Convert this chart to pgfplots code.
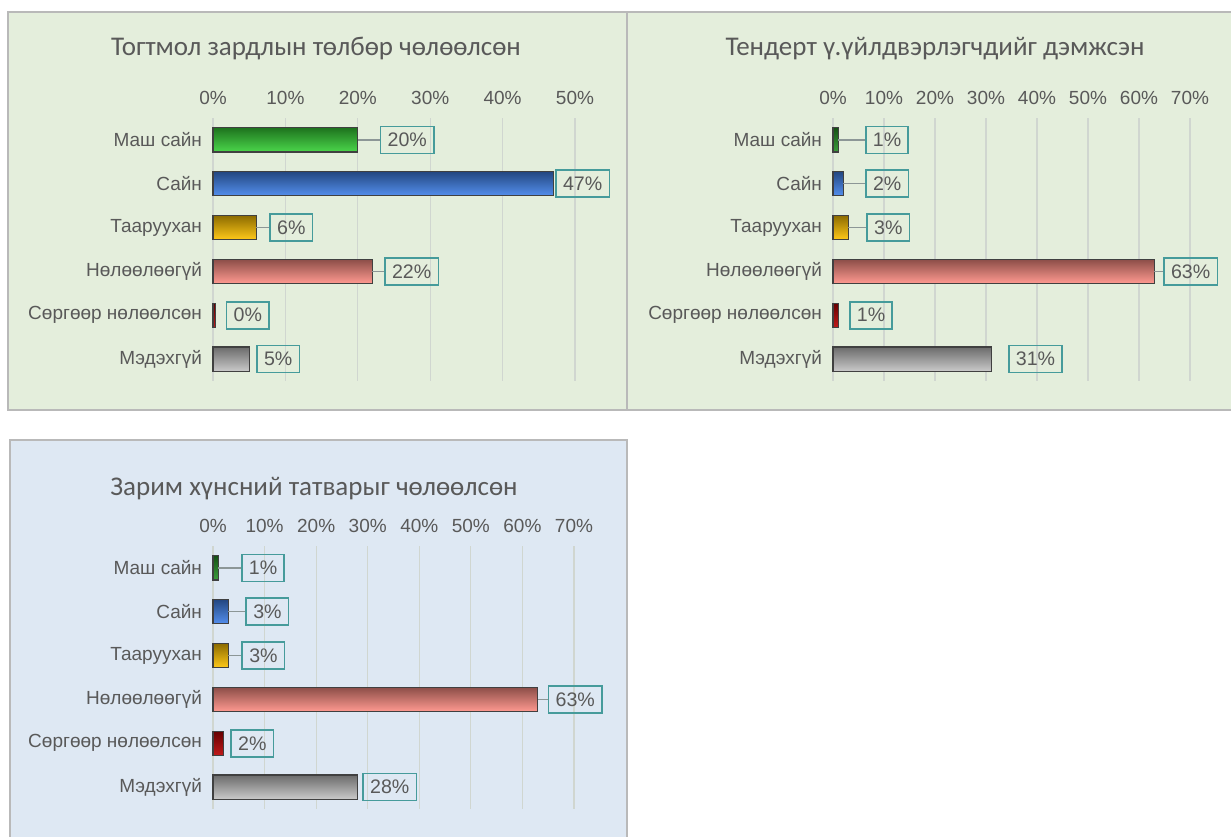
\documentclass[border=0pt]{standalone}
\usepackage{pgfplots}
\pgfplotsset{compat=1.18}
\usepackage{fontspec}
\setmainfont{Liberation Sans}
\newfontfamily\titlefont{Carlito}
\definecolor{bggreen}{RGB}{228,238,220}
\definecolor{bgblue}{RGB}{222,232,243}
\definecolor{framec}{RGB}{185,185,185}
\definecolor{txt}{RGB}{89,89,89}
\definecolor{boxc}{RGB}{70,155,155}
\definecolor{linec}{RGB}{140,150,150}
\definecolor{gridc}{RGB}{208,214,208}
\definecolor{cgreen}{RGB}{55,210,55}
\definecolor{cblue}{RGB}{65,130,235}
\definecolor{cgold}{RGB}{255,195,0}
\definecolor{csalmon}{RGB}{255,142,132}
\definecolor{cred}{RGB}{185,0,0}
\definecolor{cgray}{RGB}{195,195,195}
\pgfplotsset{
  panel/.style={
    scale only axis, width=#1, height=131.5pt,
    ymin=-0.5, ymax=5.5, xmin=0, clip=false,
    separate axis lines,
    axis x line*=top, axis y line*=left,
    x axis line style={draw=none},
    y axis line style={draw=gridc},
    xmajorgrids, major grid style={draw=gridc, line width=0.6pt},
    ytick={0,...,5},
    yticklabels={Мэдэхгүй, Сөргөөр нөлөөлсөн, Нөлөөлөөгүй, Тааруухан, Сайн, Маш сайн},
    tick style={draw=none},
    ticklabel style={font=\fontsize{9.5}{11}\selectfont, text=txt},
    yticklabel style={xshift=-2pt},
    xticklabel style={yshift=3pt},
  },
  mybar/.style={xbar, bar shift=0pt, bar width=0.55, draw=black!75, line width=0.6pt,
    top color=#1!55!black, middle color=#1, bottom color=#1!90!white},
  lbl/.style={nodes near coords={\pgfmathprintnumber[fixed,precision=0,assume math mode=true]{\pgfplotspointmeta}\%},
    point meta=x,
    every node near coord/.append style={anchor=west, xshift=#1, draw=boxc, line width=0.8pt,
      fill=none, text=txt, font=\fontsize{9.8}{11}\selectfont, inner xsep=3.5pt, inner ysep=0pt,
      minimum height=13.5pt}},
  leader/.style={every node near coord/.append style={append after command={(\tikzlastnode.west) edge[draw=linec, line width=0.6pt] ([xshift=-#1]\tikzlastnode.west)}}},
}
\begin{document}
\begin{tikzpicture}
\useasboundingbox (0,0) rectangle (615.5pt,418pt);
% panel backgrounds
\fill[bggreen] (4pt,213pt) rectangle (620pt,412pt);
\draw[framec, line width=0.8pt] (4pt,213pt) rectangle (313.5pt,412pt);
\draw[framec, line width=0.8pt] (313.5pt,213pt) rectangle (620pt,412pt);
\fill[bgblue] (5pt,-5pt) rectangle (313.5pt,198pt);
\draw[framec, line width=0.8pt] (5pt,-5pt) rectangle (313.5pt,198pt);
% titles
\node[text=txt, font=\titlefont\fontsize{13.5}{16}\selectfont] at (158pt,393.5pt) {Тогтмол зардлын төлбөр чөлөөлсөн};
\node[text=txt, font=\titlefont\fontsize{13.5}{16}\selectfont] at (467.5pt,393.5pt) {Тендерт ү.үйлдвэрлэгчдийг дэмжсэн};
\node[text=txt, font=\titlefont\fontsize{13.5}{16}\selectfont] at (157pt,173.5pt) {Зарим хүнсний татварыг чөлөөлсөн};

% Panel 1
\begin{axis}[panel=181pt, at={(106.5pt,359pt)}, anchor=north west, xmax=50,
  xtick={0,10,...,50}, xticklabels={0\%,10\%,20\%,30\%,40\%,50\%}]
\addplot[mybar=cgreen, lbl=11pt, leader=11pt] coordinates {(20,5)};
\addplot[mybar=cblue, lbl=1pt] coordinates {(47,4)};
\addplot[mybar=cgold, lbl=6.5pt, leader=6.5pt] coordinates {(6,3)};
\addplot[mybar=csalmon, lbl=6pt, leader=6pt] coordinates {(22,2)};
\addplot[mybar=cred, lbl=5pt] coordinates {(0.4,1)};
\addplot[mybar=cgray, lbl=3.5pt] coordinates {(5,0)};
\end{axis}

% Panel 2
\begin{axis}[panel=178.5pt, at={(416.5pt,359pt)}, anchor=north west, xmax=70,
  xtick={0,10,...,70}, xticklabels={0\%,10\%,20\%,30\%,40\%,50\%,60\%,70\%}]
\addplot[mybar=cgreen!70!black, lbl=13.5pt, leader=13.5pt] coordinates {(1,5)};
\addplot[mybar=cblue, lbl=11pt, leader=11pt] coordinates {(2,4)};
\addplot[mybar=cgold, lbl=9pt, leader=9pt] coordinates {(3,3)};
\addplot[mybar=csalmon, lbl=4.5pt, leader=4.5pt] coordinates {(63,2)};
\addplot[mybar=cred, lbl=5.5pt] coordinates {(1,1)};
\addplot[mybar=cgray, lbl=8.5pt] coordinates {(31,0)};
\end{axis}

% Panel 3
\begin{axis}[panel=180.5pt, at={(106.5pt,145pt)}, anchor=north west, xmax=70,
  xtick={0,10,...,70}, xticklabels={0\%,10\%,20\%,30\%,40\%,50\%,60\%,70\%}]
\addplot[mybar=cgreen!70!black, lbl=11.5pt, leader=11.5pt] coordinates {(1,5)};
\addplot[mybar=cblue, lbl=8.5pt, leader=8.5pt] coordinates {(3,4)};
\addplot[mybar=cgold, lbl=6.5pt, leader=6.5pt] coordinates {(3,3)};
\addplot[mybar=csalmon, lbl=5pt, leader=5pt] coordinates {(63,2)};
\addplot[mybar=cred, lbl=3.5pt] coordinates {(2,1)};
\addplot[mybar=cgray, lbl=2.5pt] coordinates {(28,0)};
\end{axis}
\end{tikzpicture}
\end{document}
